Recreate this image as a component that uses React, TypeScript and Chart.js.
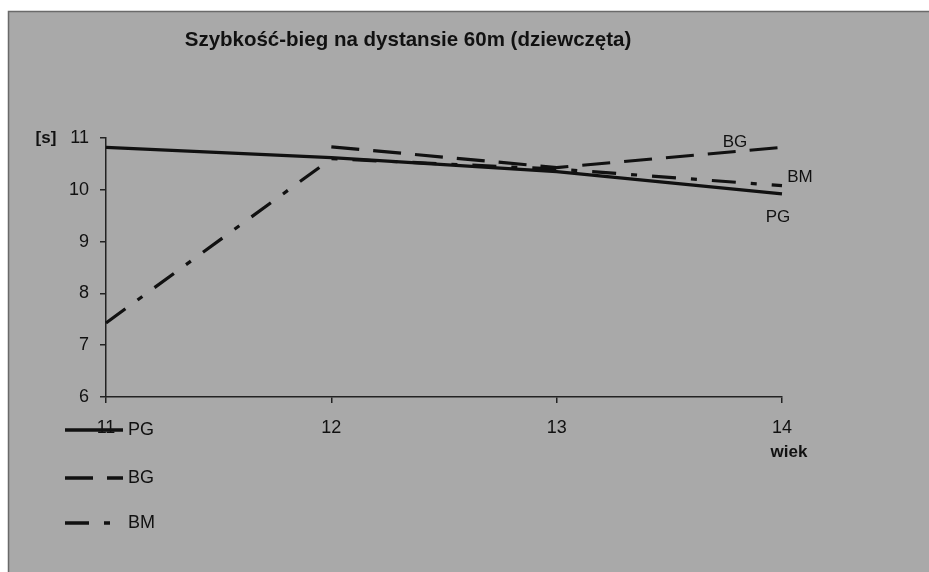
import { useEffect, useRef } from 'react';
import { Chart, registerables } from 'chart.js';

Chart.register(...registerables);

const categories = ['11', '12', '13', '14'];
const pgValues = [10.82, 10.62, 10.35, 9.92];
const bgValues = [null, 10.83, 10.43, 10.82];
const bmValues = [7.43, 10.6, 10.4, 10.08];
const seriesNames = ['PG', 'BG', 'BM'];
const yMin = 6;
const yMax = 11;
const titleText = 'Szybkość-bieg na dystansie 60m (dziewczęta)';
const yUnit = '[s]';
const xUnit = 'wiek';

const FONT = '"Liberation Sans", Arial, sans-serif';
const INK = '#111111';

const decorPlugin = {
  id: 'decor',
  beforeDraw(chart: any) {
    const { ctx, width, height } = chart;
    ctx.save();
    ctx.fillStyle = '#ffffff';
    ctx.fillRect(0, 0, width, height);
    ctx.fillStyle = '#a9a9a9';
    ctx.fillRect(8, 11, width - 8, height - 11);
    ctx.strokeStyle = '#6a6a6a';
    ctx.lineWidth = 1.5;
    ctx.beginPath();
    ctx.moveTo(8.5, height);
    ctx.lineTo(8.5, 11.5);
    ctx.lineTo(width, 11.5);
    ctx.stroke();
    ctx.restore();
  },
  afterDraw(chart: any) {
    const { ctx } = chart;
    ctx.save();
    ctx.fillStyle = INK;
    ctx.textBaseline = 'middle';
    // title
    ctx.font = `bold 20.5px ${FONT}`;
    ctx.textAlign = 'center';
    ctx.fillText(titleText, 408, 40);
    // axis units
    ctx.font = `bold 17px ${FONT}`;
    ctx.fillText(yUnit, 46, chart.scales.y.getPixelForValue(yMax));
    ctx.fillText(xUnit, chart.scales.x.getPixelForValue(categories.length - 1) + 7, 452);

    // series end labels
    const offsets = [
      [-4, 23],
      [-47, -5],
      [18, -8],
    ];
    ctx.font = `17px ${FONT}`;
    chart.data.datasets.forEach((ds: any, i: number) => {
      const meta = chart.getDatasetMeta(i);
      const pt = meta.data[meta.data.length - 1];
      ctx.textAlign = 'center';
      ctx.fillText(ds.label, pt.x + offsets[i][0], pt.y + offsets[i][1]);
    });

    // legend
    const legendY = [430, 478, 523];
    ctx.font = `18px ${FONT}`;
    chart.data.datasets.forEach((ds: any, i: number) => {
      const y = legendY[i];
      ctx.save();
      ctx.strokeStyle = ds.borderColor;
      ctx.lineWidth = 3.5;
      ctx.setLineDash(ds.borderDash || []);
      ctx.beginPath();
      ctx.moveTo(65, y);
      ctx.lineTo(123, y);
      ctx.stroke();
      ctx.restore();
      ctx.textAlign = 'left';
      ctx.fillText(ds.label, 128, y);
    });
    ctx.restore();
  },
};

export default function App() {
  const ref = useRef<HTMLCanvasElement | null>(null);
  useEffect(() => {
    if (!ref.current) return;
    const chart = new Chart(ref.current, {
      type: 'line',
      data: {
        labels: categories,
        datasets: [
          {
            label: seriesNames[0],
            data: pgValues,
            borderColor: INK,
            borderWidth: 3.2,
            pointRadius: 0,
            tension: 0,
            borderDash: [],
          },
          {
            label: seriesNames[1],
            data: bgValues,
            borderColor: INK,
            borderWidth: 3.2,
            pointRadius: 0,
            tension: 0,
            borderDash: [28, 14],
          },
          {
            label: seriesNames[2],
            data: bmValues,
            borderColor: INK,
            borderWidth: 3.2,
            pointRadius: 0,
            tension: 0,
            borderDash: [24, 15, 6, 15],
          },
        ] as any,
      },
      options: {
        animation: false,
        responsive: false,
        layout: { padding: { left: 0, top: 138, right: 147, bottom: 0 } },
        plugins: {
          legend: { display: false },
          title: { display: false },
          tooltip: { enabled: false },
        },
        scales: {
          x: {
            type: 'category',
            offset: false,
            afterFit: (s: any) => {
              s.height = 175;
            },
            grid: {
              display: true,
              drawOnChartArea: false,
              drawTicks: true,
              tickLength: 6,
              color: '#222',
              lineWidth: 1.5,
            },
            border: { display: true, color: '#222', width: 1.5 },
            ticks: {
              color: INK,
              font: { family: FONT, size: 18 },
              padding: 14,
              maxRotation: 0,
              autoSkip: false,
            },
          },
          y: {
            min: yMin,
            max: yMax,
            afterFit: (s: any) => {
              s.width = 106;
            },
            grid: {
              display: true,
              drawOnChartArea: false,
              drawTicks: true,
              tickLength: 6,
              color: '#222',
              lineWidth: 1.5,
            },
            border: { display: true, color: '#222', width: 1.5 },
            ticks: {
              stepSize: 1,
              color: INK,
              font: { family: FONT, size: 18 },
              padding: 11,
            },
          },
        },
      },
      plugins: [decorPlugin],
    });
    return () => chart.destroy();
  }, []);
  return (
    <div style={{ position: 'fixed', left: 0, top: 0, width: 929, height: 572 }}>
      <canvas ref={ref} width={929} height={572} />
    </div>
  );
}
